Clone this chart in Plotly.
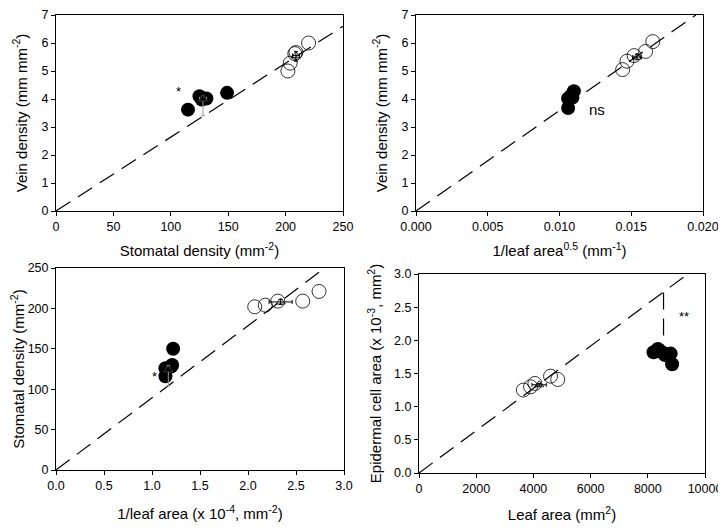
import plotly.graph_objects as go

# Panel A: vein density vs stomatal density
a_fill_x = [115, 125, 127, 131, 149]
a_fill_y = [3.62, 4.10, 3.98, 4.02, 4.22]
a_open_x = [202, 204, 208, 209, 220]
a_open_y = [5.00, 5.28, 5.62, 5.66, 6.00]
a_mean_fill = (128, 4.0)
a_mean_open = (209, 5.55)
a_line_x = [0, 250]
a_line_y = [0, 6.6]

# Panel B: vein density vs 1/leaf area^0.5
b_fill_x = [0.0106, 0.0106, 0.0108, 0.0109, 0.0110]
b_fill_y = [3.68, 4.02, 4.12, 4.05, 4.28]
b_open_x = [0.0144, 0.0147, 0.0152, 0.0160, 0.0165]
b_open_y = [5.05, 5.35, 5.55, 5.70, 6.05]
b_mean_open = (0.0154, 5.50)
b_line_x = [0, 0.0195]
b_line_y = [0, 7.0]

# Panel C: stomatal density vs 1/leaf area
c_fill_x = [1.14, 1.14, 1.20, 1.21, 1.22]
c_fill_y = [116, 126, 128, 130, 150]
c_open_x = [2.07, 2.18, 2.31, 2.57, 2.74]
c_open_y = [202, 204, 209, 209, 221]
c_mean_fill = (1.17, 124)
c_mean_open = (2.34, 208)
c_line_x = [0, 2.80]
c_line_y = [0, 250]

# Panel D: epidermal cell area vs leaf area
d_open_x = [3650, 3900, 4050, 4600, 4850]
d_open_y = [1.25, 1.30, 1.35, 1.46, 1.41]
d_fill_x = [8200, 8350, 8500, 8600, 8800, 8850]
d_fill_y = [1.82, 1.87, 1.82, 1.78, 1.80, 1.64]
d_mean_open = (4200, 1.33)
d_line_x = [0, 9400]
d_line_y = [0, 3.0]
d_gap_x = [8550, 8550]
d_gap_y = [2.72, 1.86]

FONT = "Liberation Sans, Arial, sans-serif"
DASH = "17px,9px"
MS = 14

fig = go.Figure()

def add_panel(n, fx, fy, ox, oy, lx, ly):
    xa = "x" if n == 1 else f"x{n}"
    ya = "y" if n == 1 else f"y{n}"
    fig.add_trace(go.Scatter(x=lx, y=ly, mode="lines", xaxis=xa, yaxis=ya,
                             line=dict(color="black", width=1.2, dash=DASH),
                             showlegend=False, hoverinfo="skip"))
    fig.add_trace(go.Scatter(x=ox, y=oy, mode="markers", xaxis=xa, yaxis=ya,
                             marker=dict(symbol="circle-open", size=MS, color="black",
                                         line=dict(width=0.8)),
                             showlegend=False))
    fig.add_trace(go.Scatter(x=fx, y=fy, mode="markers", xaxis=xa, yaxis=ya,
                             marker=dict(symbol="circle", size=MS, color="black"),
                             showlegend=False))

def add_mean(n, pt, ex, ey_minus, ey_plus, color, filled):
    xa = "x" if n == 1 else f"x{n}"
    ya = "y" if n == 1 else f"y{n}"
    fig.add_trace(go.Scatter(
        x=[pt[0]], y=[pt[1]], mode="markers", xaxis=xa, yaxis=ya,
        marker=dict(symbol="triangle-up" if filled else "triangle-up-open",
                    size=8, color="black", line=dict(width=0.8)),
        error_x=dict(type="constant", value=ex, color=color, thickness=1, width=2),
        error_y=dict(type="data", symmetric=False, array=[ey_plus],
                     arrayminus=[ey_minus], color=color, thickness=1, width=2),
        showlegend=False))

add_panel(1, a_fill_x, a_fill_y, a_open_x, a_open_y, a_line_x, a_line_y)
add_mean(1, a_mean_fill, 3, 0.6, 0.1, "#999999", True)
add_mean(1, a_mean_open, 3, 0.2, 0.15, "black", False)

add_panel(2, b_fill_x, b_fill_y, b_open_x, b_open_y, b_line_x, b_line_y)
add_mean(2, b_mean_open, 0.0003, 0.1, 0.1, "black", False)

add_panel(3, c_fill_x, c_fill_y, c_open_x, c_open_y, c_line_x, c_line_y)
add_mean(3, c_mean_fill, 0.02, 20, 5, "#999999", True)
add_mean(3, c_mean_open, 0.12, 3, 3, "black", False)

add_panel(4, d_fill_x, d_fill_y, d_open_x, d_open_y, d_line_x, d_line_y)
add_mean(4, d_mean_open, 250, 0.02, 0.02, "black", False)
fig.add_trace(go.Scatter(x=d_gap_x, y=d_gap_y, mode="lines", xaxis="x4", yaxis="y4",
                         line=dict(color="black", width=1.2, dash=DASH),
                         showlegend=False, hoverinfo="skip"))

W, H = 726, 529
OFF = 8  # page body margin offset
def dx(a, b):
    return [(a - OFF) / W, (b - OFF) / W]
def dy(top, bot):
    return [1 - (bot - OFF) / H, 1 - (top - OFF) / H]

axis_common = dict(showline=True, linecolor="black", linewidth=1, mirror=True,
                   ticks="outside", ticklen=4, tickcolor="black", showgrid=False,
                   zeroline=False, automargin=False, ticklabeloverflow="allow",
                   tickfont=dict(size=12.5, color="black", family=FONT),
                   title_font=dict(size=15, color="black", family=FONT))

fig.update_layout(
    width=W, height=H, margin=dict(l=0, r=0, t=0, b=0),
    paper_bgcolor="white", plot_bgcolor="white",
    font=dict(family=FONT, color="black"),
    xaxis=dict(domain=dx(56, 343), range=[0, 250], tickvals=[0, 50, 100, 150, 200, 250],
               title=dict(text="Stomatal density (mm<sup>-2</sup>)", standoff=12),
               anchor="y", **axis_common),
    yaxis=dict(domain=dy(15, 211), range=[0, 7], tickvals=list(range(8)),
               title=dict(text="Vein density (mm mm<sup>-2</sup>)", standoff=10),
               anchor="x", **axis_common),
    xaxis2=dict(domain=dx(416, 703), range=[0, 0.02],
                tickvals=[0, 0.005, 0.01, 0.015, 0.02], tickformat=".3f",
                title=dict(text="1/leaf area<sup>0.5</sup> (mm<sup>-1</sup>)", standoff=12),
                anchor="y2", **axis_common),
    yaxis2=dict(domain=dy(15, 211), range=[0, 7], tickvals=list(range(8)),
                title=dict(text="Vein density (mm mm<sup>-2</sup>)", standoff=10),
                anchor="x2", **axis_common),
    xaxis3=dict(domain=dx(56, 344), range=[0, 3], tickvals=[0, 0.5, 1, 1.5, 2, 2.5, 3],
                tickformat=".1f",
                title=dict(text="1/leaf area (x 10<sup>-4</sup>, mm<sup>-2</sup>)", standoff=16),
                anchor="y3", **axis_common),
    yaxis3=dict(domain=dy(268, 470), range=[0, 250], tickvals=[0, 50, 100, 150, 200, 250],
                title=dict(text="Stomatal density (mm<sup>-2</sup>)", standoff=12),
                anchor="x3", **axis_common),
    xaxis4=dict(domain=dx(419, 705), range=[0, 10000],
                tickvals=[0, 2000, 4000, 6000, 8000, 10000], tickformat="d",
                title=dict(text="Leaf area (mm<sup>2</sup>)", standoff=14),
                anchor="y4", **axis_common),
    yaxis4=dict(domain=dy(274, 473), range=[0, 3], tickvals=[0, 0.5, 1, 1.5, 2, 2.5, 3],
                tickformat=".1f",
                title=dict(text="Epidermal cell area (x 10<sup>-3</sup>, mm<sup>2</sup>)", standoff=8),
                anchor="x4", **axis_common),
)

fig.add_annotation(x=107, y=4.28, xref="x", yref="y", text="*", showarrow=False,
                   font=dict(size=13, color="black", family=FONT))
fig.add_annotation(x=0.0126, y=3.62, xref="x2", yref="y2", text="ns", showarrow=False,
                   font=dict(size=15, color="black", family=FONT))
fig.add_annotation(x=1.03, y=116, xref="x3", yref="y3", text="*", showarrow=False,
                   font=dict(size=13, color="black", family=FONT))
fig.add_annotation(x=9250, y=2.36, xref="x4", yref="y4", text="**", showarrow=False,
                   font=dict(size=13, color="black", family=FONT))

fig.write_html("out.html")
